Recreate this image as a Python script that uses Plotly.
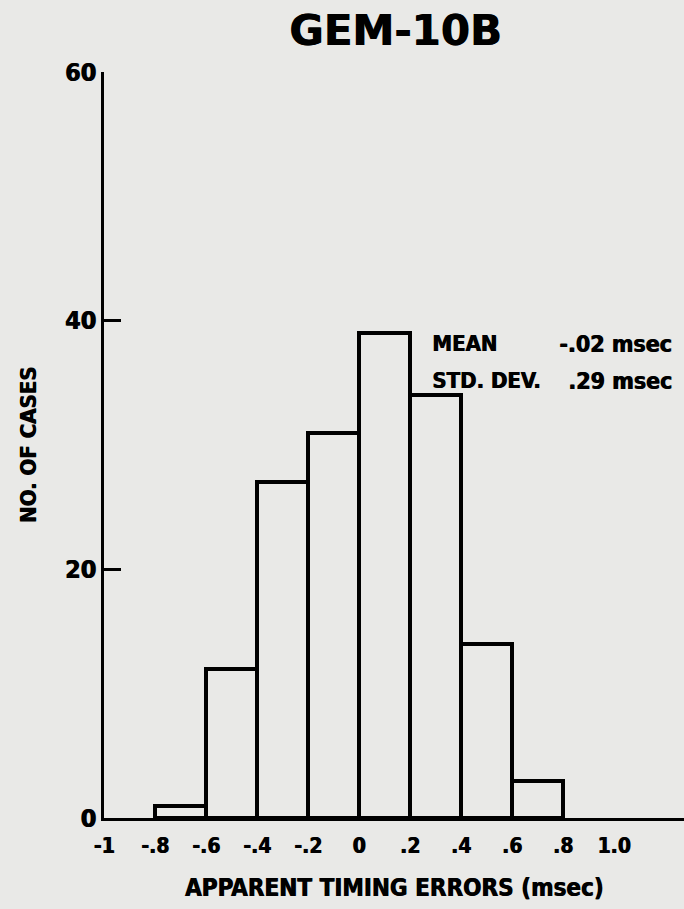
import plotly.graph_objects as go

bin_left = [-0.8, -0.6, -0.4, -0.2, 0.0, 0.2, 0.4, 0.6]
counts = [1, 12, 27, 31, 39, 34, 14, 3]
bin_width = 0.2
x_tickvals = [-1, -0.8, -0.6, -0.4, -0.2, 0, 0.2, 0.4, 0.6, 0.8, 1.0]
x_ticktext = ["-1", "-.8", "-.6", "-.4", "-.2", "0", ".2", ".4", ".6", ".8", "1.0"]
y_tickvals = [0, 20, 40, 60]
stats_labels = ["MEAN", "STD. DEV."]
stats_values = ["-.02 msec", ".29 msec"]

BG = "#e9e9e7"
FONT = "DejaVu Sans Condensed, DejaVu Sans"
HEAVY = "0.8px 0 0 black"


def f(size, family=FONT):
    return dict(size=size, family=family, weight="bold", color="black", shadow=HEAVY)


centers = [b + bin_width / 2 for b in bin_left]

fig = go.Figure()
fig.add_trace(go.Bar(
    x=centers, y=counts, width=bin_width,
    marker=dict(color=BG, line=dict(color="black", width=4)),
    showlegend=False, hoverinfo="skip",
))

fig.update_layout(
    width=684, height=909,
    paper_bgcolor=BG, plot_bgcolor=BG,
    margin=dict(l=104, r=0, t=72, b=91),
    font=dict(family=FONT, color="black", weight="bold"),
    title=dict(text="GEM-10B", x=0.578, xanchor="center", y=0.967, yanchor="middle",
               font=f(42, "DejaVu Sans")),
    xaxis=dict(range=[-1, 1.275], tickvals=x_tickvals, ticktext=x_ticktext,
               showgrid=False, zeroline=False, showline=True, linecolor="black", linewidth=3,
               ticks="", ticklabelstandoff=7, tickfont=f(21),
               title=dict(text="APPARENT TIMING ERRORS (msec)", standoff=22, font=f(24))),
    yaxis=dict(range=[0, 60], tickvals=y_tickvals, showgrid=False, zeroline=False,
               showline=True, linecolor="black", linewidth=3,
               ticks="inside", ticklen=17, tickwidth=3, tickcolor="black",
               tickfont=f(25),
               title=dict(text="NO. OF CASES", standoff=22, font=f(22))),
    bargap=0,
)

for i, (lab, val) in enumerate(zip(stats_labels, stats_values)):
    yv = 38.15 - i * 3.0
    fig.add_annotation(xref="paper", x=(430 - 104) / 580, y=yv, yref="y", text=lab,
                       showarrow=False, xanchor="left", yanchor="middle", font=f(22))
    fig.add_annotation(xref="paper", x=(674 - 104) / 580, y=yv, yref="y", text=val,
                       showarrow=False, xanchor="right", yanchor="middle", font=f(23))

fig.write_html(
    "out.html",
    config={"displayModeBar": False},
    post_script="document.body.style.margin='0';document.body.style.overflow='hidden';"
                "document.body.style.background='#e9e9e7';",
)
